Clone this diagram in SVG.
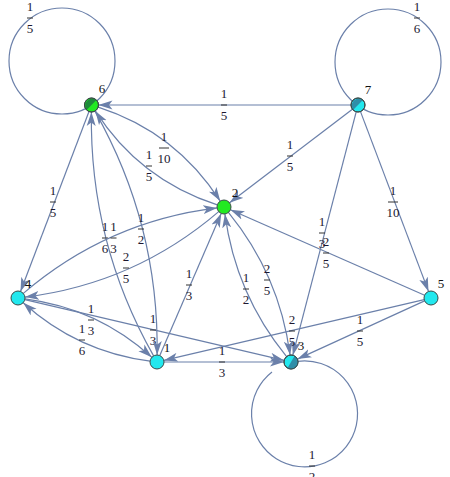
<svg xmlns="http://www.w3.org/2000/svg" width="450" height="477" viewBox="0 0 450 477">
<style>
.e{fill:none;stroke:#6b80aa;stroke-width:1.2}
.ea{fill:none;stroke:#6b80aa;stroke-width:1.2;marker-end:url(#arr)}
.lbl text{font-family:"Liberation Serif","Times New Roman",serif;font-size:13px;fill:#1c1830;text-anchor:middle}
.lbl line{stroke:#333;stroke-width:1}
.nl{font-family:"Liberation Serif","Times New Roman",serif;font-size:13px;fill:#111;text-anchor:middle}
.ng{fill:#22ea22;stroke:#3a4a48;stroke-width:1}
.nc{fill:#22e8ee;stroke:#3a4a48;stroke-width:1}
.dg{fill:#1f8a3c}
.dc{fill:#2f8ea8}
</style>
<defs>
<marker id="arr" viewBox="0 0 14 10" refX="14" refY="5" markerWidth="14" markerHeight="10" markerUnits="userSpaceOnUse" orient="auto">
<path d="M0,0.5 L14,5 L0,9.5 L3.5,5 Z" fill="#6b80aa"/>
</marker>
</defs>
<rect width="450" height="477" fill="#fff"/>
<g id="connectors">
<g id="e66"><circle class="e" cx="62" cy="61" r="53"/>
<g class="lbl" transform="translate(30,18)"><text y="-7">1</text><line x1="-3" x2="3"/><text y="15">5</text></g></g>
<g id="e77"><circle class="e" cx="388" cy="62" r="53"/>
<g class="lbl" transform="translate(417,18)"><text y="-7">1</text><line x1="-3" x2="3"/><text y="15">6</text></g></g>
<g id="e33"><path class="e" d="M272,372 A53,53 0 1 0 297.5,361.3"/>
<g class="lbl" transform="translate(312,466)"><text y="-7">1</text><line x1="-3" x2="3"/><text y="15">2</text></g></g>
<g id="e76"><path class="ea" d="M351,105 L98.5,105"/>
<g class="lbl" transform="translate(224,105)"><text y="-7">1</text><line x1="-3" x2="3"/><text y="15">5</text></g></g>
<g id="e72"><path class="ea" d="M352.4,109.2 L229.6,202.8"/>
<g class="lbl" transform="translate(290,156)"><text y="-7">1</text><line x1="-3" x2="3"/><text y="15">5</text></g></g>
<g id="e75"><path class="ea" d="M360.5,111.6 L428.5,291.4"/>
<g class="lbl" transform="translate(393,202)"><text y="-7">1</text><line x1="-5" x2="5"/><text y="15">10</text></g></g>
<g id="e73"><path class="ea" d="M356.2,111.8 L292.8,355.2"/>
<g class="lbl" transform="translate(322,233)"><text y="-7">1</text><line x1="-3" x2="3"/><text y="15">3</text></g></g>
<g id="e64"><path class="ea" d="M89,111.5 L20.5,291.5"/>
<g class="lbl" transform="translate(53,202)"><text y="-7">1</text><line x1="-3" x2="3"/><text y="15">5</text></g></g>
<g id="e52"><path class="ea" d="M424.6,295.2 L230.4,209.8"/>
<g class="lbl" transform="translate(326,253)"><text y="-7">2</text><line x1="-3" x2="3"/><text y="15">5</text></g></g>
<g id="e51"><path class="ea" d="M424.2,299.6 L163.8,360.4"/>
<g class="lbl" transform="translate(292,331)"><text y="-7">2</text><line x1="-3" x2="3"/><text y="15">5</text></g></g>
<g id="e53"><path class="ea" d="M424.6,300.9 L297.4,359.1"/>
<g class="lbl" transform="translate(360,331)"><text y="-7">1</text><line x1="-3" x2="3"/><text y="15">5</text></g></g>
<g id="e12"><path class="ea" d="M159.8,355.6 L221.2,213.4"/>
<g class="lbl" transform="translate(189,285)"><text y="-7">1</text><line x1="-3" x2="3"/><text y="15">3</text></g></g>
<g id="e13"><path class="ea" d="M164,362 L284,362"/>
<g class="lbl" transform="translate(222,362)"><text y="-7">1</text><line x1="-3" x2="3"/><text y="15">3</text></g></g>
<g id="e43"><path class="ea" d="M24.8,299.6 L284.2,360.4"/>
<g class="lbl" transform="translate(153,330)"><text y="-7">1</text><line x1="-3" x2="3"/><text y="15">3</text></g></g>
<g id="e62"><path class="ea" d="M98.2,107.1 Q176.05,132.2 220.2,201.1"/>
<g class="lbl" transform="translate(164,148)"><text y="-7">1</text><line x1="-5" x2="5"/><text y="15">10</text></g></g>
<g id="e26"><path class="ea" d="M217.3,204.9 Q139.45,179.8 95.3,110.9"/>
<g class="lbl" transform="translate(149,166)"><text y="-7">1</text><line x1="-3" x2="3"/><text y="15">5</text></g></g>
<g id="e61"><path class="ea" d="M94.9,111.1 Q159.1,224.6 157.1,355"/>
<g class="lbl" transform="translate(141,229)"><text y="-7">1</text><line x1="-3" x2="3"/><text y="15">2</text></g></g>
<g id="e16"><path class="ea" d="M153.6,355.9 Q89.35,242.4 91.4,112"/>
<g class="lbl" transform="translate(105,238)"><text y="-7">1</text><line x1="-3" x2="3"/><text y="15">6</text></g></g>
<g id="e42"><path class="ea" d="M23.3,293.4 Q107.3,221.4 217.1,207.9"/>
<g class="lbl" transform="translate(113.5,238)"><text y="-7">1</text><line x1="-3" x2="3"/><text y="15">3</text></g></g>
<g id="e24"><path class="ea" d="M218.7,211.6 Q134.7,283.6 25,297.1"/>
<g class="lbl" transform="translate(126,268)"><text y="-7">2</text><line x1="-3" x2="3"/><text y="15">5</text></g></g>
<g id="e41"><path class="ea" d="M24.9,298.9 Q97.5,308.2 151.8,357.3"/>
<g class="lbl" transform="translate(91,320)"><text y="-7">1</text><line x1="-3" x2="3"/><text y="15">3</text></g></g>
<g id="e14"><path class="ea" d="M150.1,361.1 Q77.5,351.8 23.2,302.7"/>
<g class="lbl" transform="translate(82,340)"><text y="-7">1</text><line x1="-3" x2="3"/><text y="15">6</text></g></g>
<g id="e23"><path class="ea" d="M228.4,212.4 Q279.5,275 290.1,355.1"/>
<g class="lbl" transform="translate(267,280)"><text y="-7">2</text><line x1="-3" x2="3"/><text y="15">5</text></g></g>
<g id="e32"><path class="ea" d="M286.6,356.6 Q235.5,294 224.9,213.9"/>
<g class="lbl" transform="translate(246,289)"><text y="-7">1</text><line x1="-3" x2="3"/><text y="15">2</text></g></g>
</g>
<g id="node6"><circle class="ng" cx="91.5" cy="105" r="7"/><path class="dg" d="M86.6,109.9 A7,7 0 0 1 96.4,100.1 Z"/><circle cx="91.5" cy="105" r="7" fill="none" stroke="#3a4a48"/><text class="nl" x="102" y="93">6</text></g>
<g id="node7"><circle class="nc" cx="358" cy="105" r="7"/><path class="dc" d="M353.1,109.9 A7,7 0 0 1 362.9,100.1 Z"/><circle cx="358" cy="105" r="7" fill="none" stroke="#3a4a48"/><text class="nl" x="368" y="94">7</text></g>
<g id="node2"><circle class="ng" cx="224" cy="207" r="7"/><text class="nl" x="235" y="197">2</text></g>
<g id="node4"><circle class="nc" cx="18" cy="298" r="7"/><text class="nl" x="28" y="288">4</text></g>
<g id="node1"><circle class="nc" cx="157" cy="362" r="7"/><text class="nl" x="167" y="352">1</text></g>
<g id="node3"><circle class="nc" cx="291" cy="362" r="7"/><path class="dc" d="M294.5,355.9 A7,7 0 0 1 287.5,368.1 Z"/><circle cx="291" cy="362" r="7" fill="none" stroke="#3a4a48"/><text class="nl" x="301" y="350">3</text></g>
<g id="node5"><circle class="nc" cx="431" cy="298" r="7"/><text class="nl" x="441" y="288">5</text></g>
</svg>
